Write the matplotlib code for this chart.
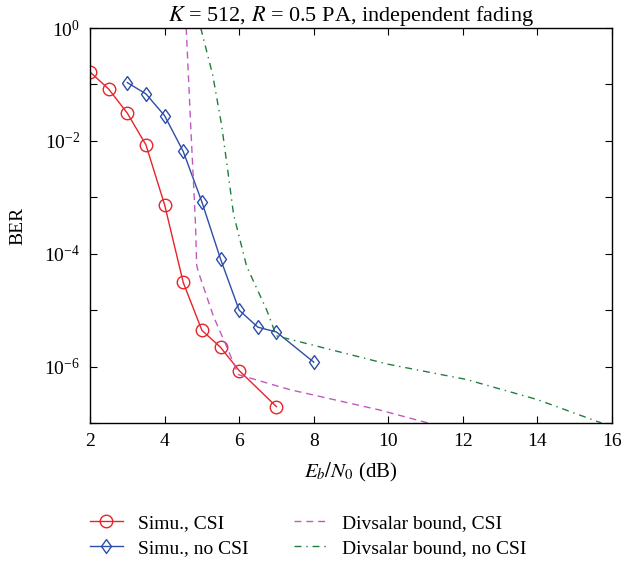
import matplotlib
matplotlib.use("Agg")
import matplotlib.pyplot as plt
import numpy as np
from matplotlib.ticker import NullFormatter, FixedLocator

plt.rcParams['font.family'] = ['Liberation Serif', 'DejaVu Serif']
plt.rcParams['mathtext.fontset'] = 'stix'

# Data
snr_csi = [2, 2.5, 3, 3.5, 4, 4.5, 5, 5.5, 6, 7]
ber_csi = [0.166, 0.083, 0.031, 0.0085, 7.4e-4, 3.1e-5, 4.4e-6, 2.2e-6, 8.5e-7, 1.95e-7]

snr_nocsi = [3, 3.5, 4, 4.5, 5, 5.5, 6, 6.5, 7, 8]
ber_nocsi = [0.108, 0.068, 0.028, 0.0065, 8.3e-4, 8.1e-5, 1.0e-5, 5.0e-6, 4.1e-6, 1.2e-6]

snr_div_csi = [4.58, 4.70, 4.78, 4.83, 4.86, 4.90, 5.31, 5.66, 5.98, 7.36, 9.77, 11.07]
ber_div_csi = [1.0, 1.9e-2, 1.6e-3, 3.2e-4, 6.3e-5, 4.9e-5, 7.8e-6, 2.3e-6, 7.2e-7, 3.9e-7, 1.7e-7, 1.0e-7]

snr_div_nocsi = [4.97, 5.29, 5.53, 5.71, 5.85, 6.2, 6.74, 7.0, 10.0, 12.1, 14.0, 15.72]
ber_div_nocsi = [1.0, 0.148, 1.9e-2, 2.5e-3, 5.0e-4, 6.0e-5, 1.0e-5, 3.5e-6, 1.1e-6, 5.9e-7, 2.6e-7, 1.0e-7]

xticks = [2, 4, 6, 8, 10, 12, 14, 16]
yticks = [1e0, 1e-2, 1e-4, 1e-6]

fig = plt.figure(figsize=(6.26, 5.65), dpi=100)
ax = fig.add_axes([0.1438, 0.2513, 0.9776 - 0.1438, 0.9504 - 0.2513])

red = '#e8232a'
blue = '#2d4ea8'
mag = '#c259c2'
green = '#1f7f3f'

diamond = [(0, 1), (0.72, 0), (0, -1), (-0.72, 0), (0, 1)]

ax.plot(snr_csi, ber_csi, '-', color=red, lw=1.0, marker='o', ms=9,
        mfc='none', mec=red, mew=1.0, label='Simu., CSI')
ax.plot(snr_nocsi, ber_nocsi, '-', color=blue, lw=1.0, marker=diamond, ms=10,
        mfc='none', mec=blue, mew=1.0, label='Simu., no CSI')
ax.plot(snr_div_csi, ber_div_csi, '--', color=mag, lw=1.0, dashes=(5, 3.5),
        label='Divsalar bound, CSI')
ax.plot(snr_div_nocsi, ber_div_nocsi, '-.', color=green, lw=1.0, dashes=(5, 3.5, 1, 3.5),
        label='Divsalar bound, no CSI')

ax.set_yscale('log')
ax.set_xlim(2, 16)
ax.set_ylim(1e-7, 1e0)
ax.xaxis.set_major_locator(FixedLocator(xticks))
ax.yaxis.set_major_locator(FixedLocator(yticks))
ax.yaxis.set_minor_locator(FixedLocator([1e-1, 1e-3, 1e-5, 1e-7]))
ax.yaxis.set_minor_formatter(NullFormatter())
ax.tick_params(which='both', direction='in', top=True, right=True, labelsize=14, pad=7)
ax.tick_params(which='major', length=5, width=0.8)
ax.tick_params(which='minor', length=5, width=0.8)

for s in ax.spines.values():
    s.set_linewidth(1.0)

ax.set_title(r'$K$ = 512, $R$ = 0.5 PA, independent fading', fontsize=16, pad=4)
ax.set_xlabel(r'$E_b/N_0$ (dB)', fontsize=15, labelpad=8)
ax.set_ylabel('BER', fontsize=14, labelpad=13)

fig.legend(loc='upper left', bbox_to_anchor=(0.131, 0.104), ncol=2, frameon=False,
           fontsize=14, handlelength=1.7, handletextpad=0.8, columnspacing=2.3,
           labelspacing=0.4, borderaxespad=0)

fig.savefig('out.png', dpi=100)
